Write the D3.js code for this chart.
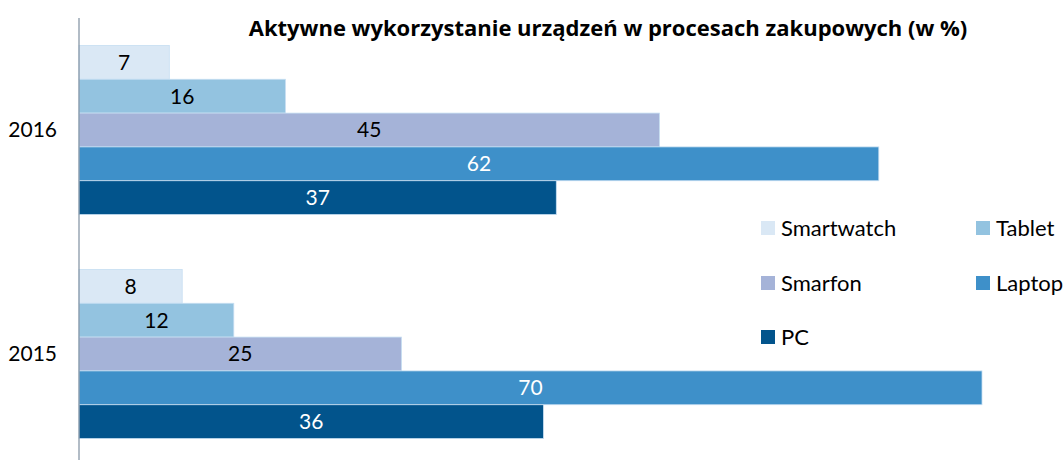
<!DOCTYPE html>
<html>
<head>
<meta charset="utf-8">
<script src="https://cdn.jsdelivr.net/npm/d3@7"></script>
<style>
  body { margin: 0; background: #fff; }
  text { font-family: Lato, "Open Sans", sans-serif; fill: #000; }
</style>
</head>
<body>
<svg width="1063" height="460"></svg>
<script>
// chart data
var years = ["2016", "2015"];
var series = ["Smartwatch", "Tablet", "Smarfon", "Laptop", "PC"];
var values2016 = [7, 16, 45, 62, 37];
var values2015 = [8, 12, 25, 70, 36];
var colors = ["#dae8f5", "#93c3e0", "#a5b3d8", "#3e90c9", "#02548c"];
var labelColors = ["#000", "#000", "#000", "#fff", "#fff"];
var title = "Aktywne wykorzystanie urządzeń w procesach zakupowych (w %)";

(function () {
    var svg = d3.select("svg");
    var valuesByYear = { "2016": values2016, "2015": values2015 };

    var rows = [];
    years.forEach(function (yr) {
        series.forEach(function (s, i) {
            rows.push({ year: yr, series: s, i: i, value: valuesByYear[yr][i] });
        });
    });

    var x = d3.scaleLinear().domain([0, 70]).range([79, 982]);
    var y0 = d3.scaleBand().domain(years).range([18, 466]).paddingInner(0.245).paddingOuter(0.1225);
    var y1 = d3.scaleBand().domain(series).range([0, y0.bandwidth()]);

    svg.append("text")
        .attr("x", 608)
        .attr("y", 28)
        .attr("dy", "0.35em")
        .attr("text-anchor", "middle")
        .style("font-family", "'Open Sans', sans-serif")
        .style("font-weight", "bold")
        .style("font-size", "22px")
        .text(title);

    var groups = svg.selectAll(".year")
        .data(years)
        .enter().append("g")
        .attr("class", "year")
        .attr("transform", function (d) { return "translate(0," + y0(d) + ")"; });

    groups.selectAll("rect")
        .data(function (yr) { return rows.filter(function (r) { return r.year === yr; }); })
        .enter().append("rect")
        .attr("x", x(0))
        .attr("y", function (d) { return y1(d.series); })
        .attr("width", function (d) { return x(d.value) - x(0); })
        .attr("height", y1.bandwidth())
        .attr("fill", function (d) { return colors[d.i]; })
        .attr("stroke", "#c6def2")
        .attr("stroke-width", 0.8);

    groups.selectAll(".lbl")
        .data(function (yr) { return rows.filter(function (r) { return r.year === yr; }); })
        .enter().append("text")
        .attr("class", "lbl")
        .attr("x", function (d) { return (x(0) + x(d.value)) / 2; })
        .attr("y", function (d) { return y1(d.series) + y1.bandwidth() / 2; })
        .attr("dy", "0.35em")
        .attr("text-anchor", "middle")
        .style("font-size", "21px")
        .style("fill", function (d) { return labelColors[d.i]; })
        .text(function (d) { return d.value; });

    // category axis
    var axis = svg.append("g")
        .attr("transform", "translate(" + x(0) + ",0)")
        .call(d3.axisLeft(y0).tickSize(0).tickPadding(22));
    axis.select(".domain").remove();
    axis.selectAll("text").style("font-size", "21px");

    svg.append("line")
        .attr("x1", x(0)).attr("x2", x(0))
        .attr("y1", 18).attr("y2", 460)
        .attr("stroke", "#7f8fa0")
        .attr("stroke-width", 1.2);

    // legend
    var legendPos = [[761, 228], [976, 228], [761, 283], [976, 283], [761, 337]];
    var legend = svg.selectAll(".legend")
        .data(series)
        .enter().append("g")
        .attr("class", "legend")
        .attr("transform", function (d, i) { return "translate(" + legendPos[i][0] + "," + legendPos[i][1] + ")"; });

    legend.append("rect")
        .attr("x", 0).attr("y", -7)
        .attr("width", 14).attr("height", 14)
        .attr("fill", function (d, i) { return colors[i]; });

    legend.append("text")
        .attr("x", 20)
        .attr("dy", "0.35em")
        .style("font-size", "22px")
        .text(function (d) { return d; });
}());
</script>
</body>
</html>
